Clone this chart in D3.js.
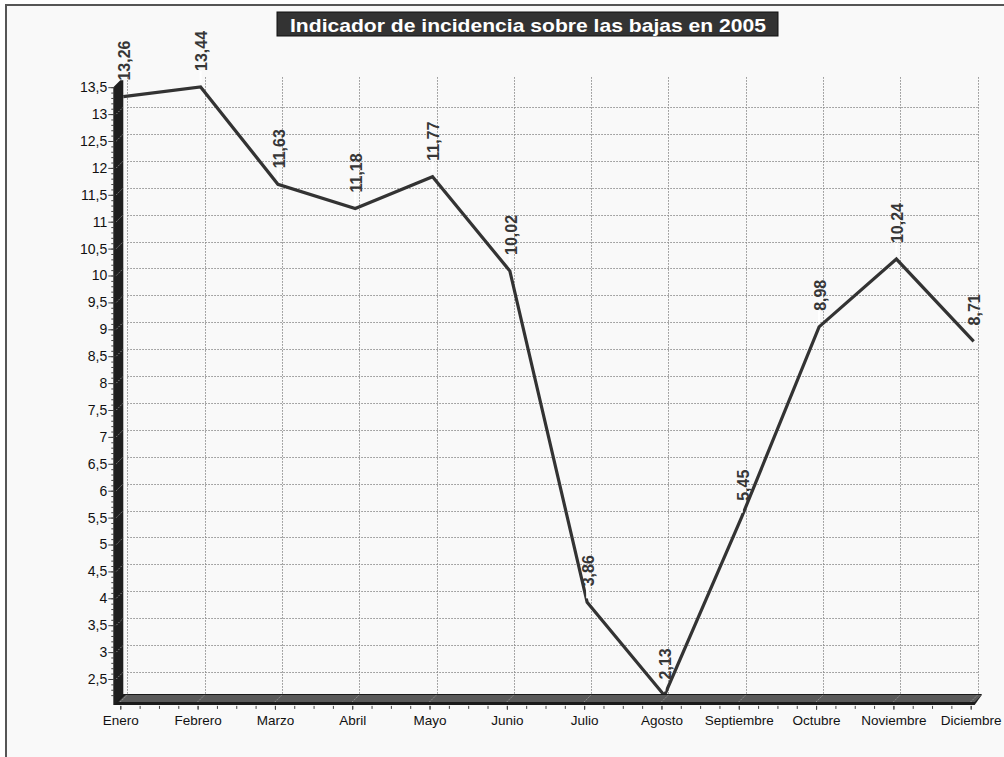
<!DOCTYPE html>
<html>
<head>
<meta charset="utf-8">
<script src="https://cdn.jsdelivr.net/npm/d3@7"></script>
<style>
  body { margin: 0; background: #ffffff; }
  svg text { font-family: "Liberation Sans", Arial, sans-serif; }
</style>
</head>
<body>
<div class="chart"></div>
<script>
// data
var months = ["Enero", "Febrero", "Marzo", "Abril", "Mayo", "Junio", "Julio",
              "Agosto", "Septiembre", "Octubre", "Noviembre", "Diciembre"];
var values = [13.26, 13.44, 11.63, 11.18, 11.77, 10.02, 3.86, 2.13, 5.45, 8.98, 10.24, 8.71];
var yTicks = [2.5, 3, 3.5, 4, 4.5, 5, 5.5, 6, 6.5, 7, 7.5, 8, 8.5, 9, 9.5,
              10, 10.5, 11, 11.5, 12, 12.5, 13, 13.5];
var title = "Indicador de incidencia sobre las bajas en 2005";

var svgWidth = 1004, svgHeight = 757;
var DX = 7, DY = -7;          // depth of the 3d box
var LX = 3, LY = -3.5;        // line sits half way in the depth

var svg = d3.select(".chart").append("svg")
    .attr("width", svgWidth)
    .attr("height", svgHeight);

// outer frame
svg.append("rect")
    .attr("x", 6).attr("y", 5)
    .attr("width", 1010).attr("height", 770)
    .attr("fill", "#f9f9f9")
    .attr("stroke", "#555")
    .attr("stroke-width", 2);

var xScale = d3.scalePoint()
    .domain(months)
    .range([120.3, 970.7]);

var yScale = d3.scaleLinear()
    .domain([2.13, 13.5])
    .range([698.9, 87.2]);

var fmt = function(v) { return String(v).replace(".", ","); };

var x0 = xScale(months[0]), x1 = xScale(months[months.length - 1]);
var yBot = yScale(2.13), yTop = yScale(13.5);

// back grid (dotted)
var grid = svg.append("g")
    .attr("stroke", "#8c8c8c")
    .attr("stroke-width", 1)
    .attr("stroke-dasharray", "1.5,1.5")
    .attr("fill", "none");

grid.selectAll("line.h")
    .data(yTicks.filter(d => d < 13.5))
    .enter().append("line")
    .attr("class", "h")
    .attr("x1", x0 + DX).attr("x2", x1 + DX)
    .attr("y1", d => Math.round(yScale(d) + DY) + 0.5)
    .attr("y2", d => Math.round(yScale(d) + DY) + 0.5);

grid.selectAll("line.v")
    .data(months)
    .enter().append("line")
    .attr("class", "v")
    .attr("x1", d => Math.round(xScale(d) + DX) + 0.5)
    .attr("x2", d => Math.round(xScale(d) + DX) + 0.5)
    .attr("y1", yTop + DY - 3)
    .attr("y2", yBot + 3 + DY);

// the series line
var line = d3.line()
    .x((d, i) => xScale(months[i]) + LX)
    .y(d => yScale(d) + LY);

svg.append("path")
    .datum(values)
    .attr("d", line)
    .attr("fill", "none")
    .attr("stroke", "#333")
    .attr("stroke-width", 3.2)
    .attr("stroke-linejoin", "miter");

// value labels, rotated
var labels = svg.append("g");
labels.selectAll("rect")
    .data(values)
    .enter().append("rect")
    .attr("x", (d, i) => xScale(months[i]) + LX - 1)
    .attr("y", d => yScale(d) + LY - 16)
    .attr("width", 2)
    .attr("height", 12)
    .attr("fill", "#ffffff");

labels.selectAll("text")
    .data(values)
    .enter().append("text")
    .attr("transform", (d, i) => "translate(" + (xScale(months[i]) + LX + 1) + "," + (yScale(d) + LY - 16) + ") rotate(-90)")
    .attr("dy", "0.36em")
    .attr("font-size", "16px")
    .attr("font-weight", "bold")
    .attr("fill", "#363636")
    .text(d => fmt(d.toFixed(2)));

// left wall
var wall = svg.append("g");
wall.append("path")
    .attr("d", "M" + (x0 - 7) + "," + (yBot + 6) +
               " L" + (x0 - 7) + "," + yTop +
               " L" + (x0 - 7 + DX) + "," + (yTop + DY) +
               " L" + (x0 + 3) + "," + (yTop + DY) +
               " L" + (x0 + 3) + "," + (yBot + 3 + DY) +
               " L" + (x0 - 3) + "," + (yBot + 6) + " Z")
    .attr("fill", "#1f1f1f");

wall.selectAll("line")
    .data(yTicks.filter(d => d < 13.5))
    .enter().append("line")
    .attr("x1", x0 - 4).attr("x2", x0 + 3)
    .attr("y1", d => yScale(d))
    .attr("y2", d => yScale(d) + DY)
    .attr("stroke", "#8c8c8c")
    .attr("stroke-width", 1)
    .attr("stroke-dasharray", "1.5,1.5");

// floor
var floor = svg.append("g");
floor.append("path")
    .attr("d", "M" + (x0 - 6) + "," + (yBot + 6) +
               " L" + (x1 + 4) + "," + (yBot + 6) +
               " L" + (x1 + 4 + DX) + "," + (yBot + 3 + DY) +
               " L" + (x1 + 4 + DX) + "," + (yBot + 2 + DY) +
               " L" + (x0 + 3) + "," + (yBot + 2 + DY) + " Z")
    .attr("fill", "#1a1a1a");
floor.append("path")
    .attr("d", "M" + (x0 - 2) + "," + (yBot + 3) +
               " L" + (x1 + 4) + "," + (yBot + 3) +
               " L" + (x1 + 4 + DX) + "," + (yBot + 3 + DY) +
               " L" + (x0 + 3 + 2) + "," + (yBot + 3 + DY) + " Z")
    .attr("fill", "#5a5a5a");

floor.selectAll("line")
    .data(months)
    .enter().append("line")
    .attr("x1", d => xScale(d))
    .attr("x2", d => xScale(d) + DX)
    .attr("y1", yBot + 3)
    .attr("y2", yBot + 3 + DY)
    .attr("stroke", "#9a9a9a")
    .attr("stroke-width", 1)
    .attr("stroke-dasharray", "1.5,1.5");

// y axis, major and minor ticks
var yMinor = svg.append("g")
    .attr("transform", "translate(" + (x0 - 6) + ",0)")
    .call(d3.axisLeft(yScale).tickValues(d3.range(22, 136).map(d => d / 10)).tickSize(3).tickFormat(""));
yMinor.select(".domain").remove();
yMinor.selectAll("line").attr("stroke", "#444");

var yAxis = svg.append("g")
    .attr("transform", "translate(" + (x0 - 6) + ",0)")
    .call(d3.axisLeft(yScale).tickValues(yTicks).tickSize(6).tickPadding(1).tickFormat(fmt));
yAxis.select(".domain").remove();
yAxis.selectAll("line").attr("stroke", "#444");
yAxis.selectAll("text")
    .attr("font-size", "14px")
    .attr("font-family", "Liberation Sans, Arial, sans-serif")
    .attr("fill", "#111");

// x axis
var xLin = d3.scaleLinear().domain([0, months.length - 1]).range([x0, x1]);
var xMinor = svg.append("g")
    .attr("transform", "translate(0," + (yBot + 7) + ")")
    .call(d3.axisBottom(xLin).tickValues(d3.range(0, 44.5, 1).map(d => d / 4)).tickSize(3).tickFormat(""));
xMinor.select(".domain").remove();
xMinor.selectAll("line").attr("stroke", "#444");

var xAxis = svg.append("g")
    .attr("transform", "translate(0," + (yBot + 7) + ")")
    .call(d3.axisBottom(xScale).tickSize(4).tickPadding(6));
xAxis.select(".domain").remove();
xAxis.selectAll("line").attr("stroke", "#444");
xAxis.selectAll("text")
    .attr("font-size", "13.5px")
    .attr("font-family", "Liberation Sans, Arial, sans-serif")
    .attr("fill", "#111");

// title box
var tg = svg.append("g");
tg.append("rect")
    .attr("x", 277).attr("y", 12)
    .attr("width", 501).attr("height", 24)
    .attr("fill", "#333")
    .attr("stroke", "#111");
tg.append("text")
    .attr("x", 528).attr("y", 32)
    .attr("text-anchor", "middle")
    .attr("font-size", "19px")
    .attr("font-weight", "bold")
    .attr("fill", "#ffffff")
    .attr("textLength", 476)
    .attr("lengthAdjust", "spacingAndGlyphs")
    .text(title);
</script>
</body>
</html>
